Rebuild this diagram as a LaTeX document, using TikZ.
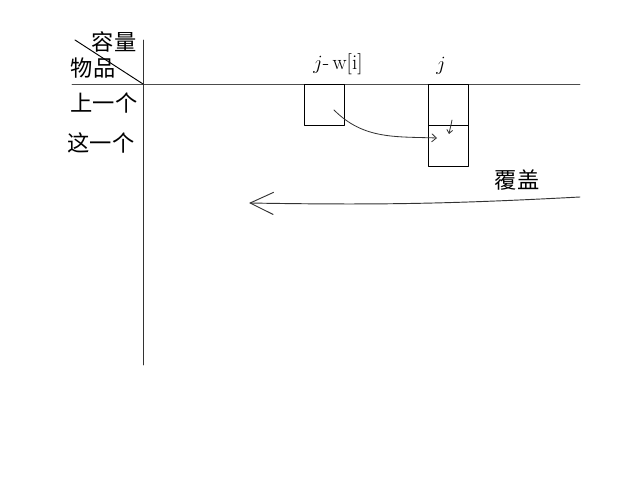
\documentclass[tikz,border=0pt]{standalone}
\usepackage{fontspec}
\newfontfamily\cjk{Noto Sans CJK SC}
\usetikzlibrary{arrows.meta}

\tikzset{
  cell/.style={draw, line width=0.8pt, minimum width=1.2cm, minimum height=1.23cm, inner sep=0pt},
  hand/.style={font=\cjk\fontsize{19}{19}\selectfont, inner sep=0pt},
  idx/.style={font=\fontsize{18}{18}\selectfont, inner sep=0pt}
}

\begin{document}
\begin{tikzpicture}[x=0.03cm, y=-0.03cm, line cap=round, line join=round]
    \useasboundingbox (0,0) rectangle (640,480);

    % Axes
    \draw[line width=0.8pt, black!70] (72,84) -- (580,84); % capacity axis
    \draw[line width=0.8pt, black!80] (143,40) -- (143,365); % item axis
    \draw[line width=0.8pt] (75,40) -- (143,84); % corner split

    % Corner labels
    \node[hand] (cap) at (114,42) {容量};
    \node[hand] (item) at (93,68) {物品};

    % Row labels
    \node[hand] (prev) at (104,103) {上一个};
    \node[hand] (curr) at (101,143) {这一个};

    % Column labels
    \node[idx] (lblA) at (338,64) {$j$-\,w[i]};
    \node[idx] (lblB) at (441,66) {$j$};

    % Cells
    \node[cell] (oldcell) at (324.5,104.5) {};
    \node[cell] (topcell) at (448,104.5) {};
    \node[cell] (newcell) at (448,145.5) {};

    % Update arrows
    \coordinate (src) at (334,110);
    \coordinate (dst) at (437,138);
    \draw[-{Straight Barb[length=4pt,width=7pt]}, line width=0.7pt, black!80]
        (src) to[out=-45, in=178] (dst);
    \coordinate (downA) at (452,120);
    \coordinate (downB) at (449,134);
    \draw[-{Straight Barb[length=3pt,width=5pt]}, line width=0.7pt, black!80]
        (downA) to[out=-100, in=80] (downB);

    % Overwrite direction
    \coordinate (sweepR) at (580,197);
    \coordinate (sweepL) at (249,203);
    \draw[-{Straight Barb[length=20pt,width=19pt]}, line width=0.8pt, black!80]
        (sweepR) to[bend left=2] (sweepL);
    \node[hand] (cover) at (517,180) {覆盖};

\end{tikzpicture}
\end{document}
